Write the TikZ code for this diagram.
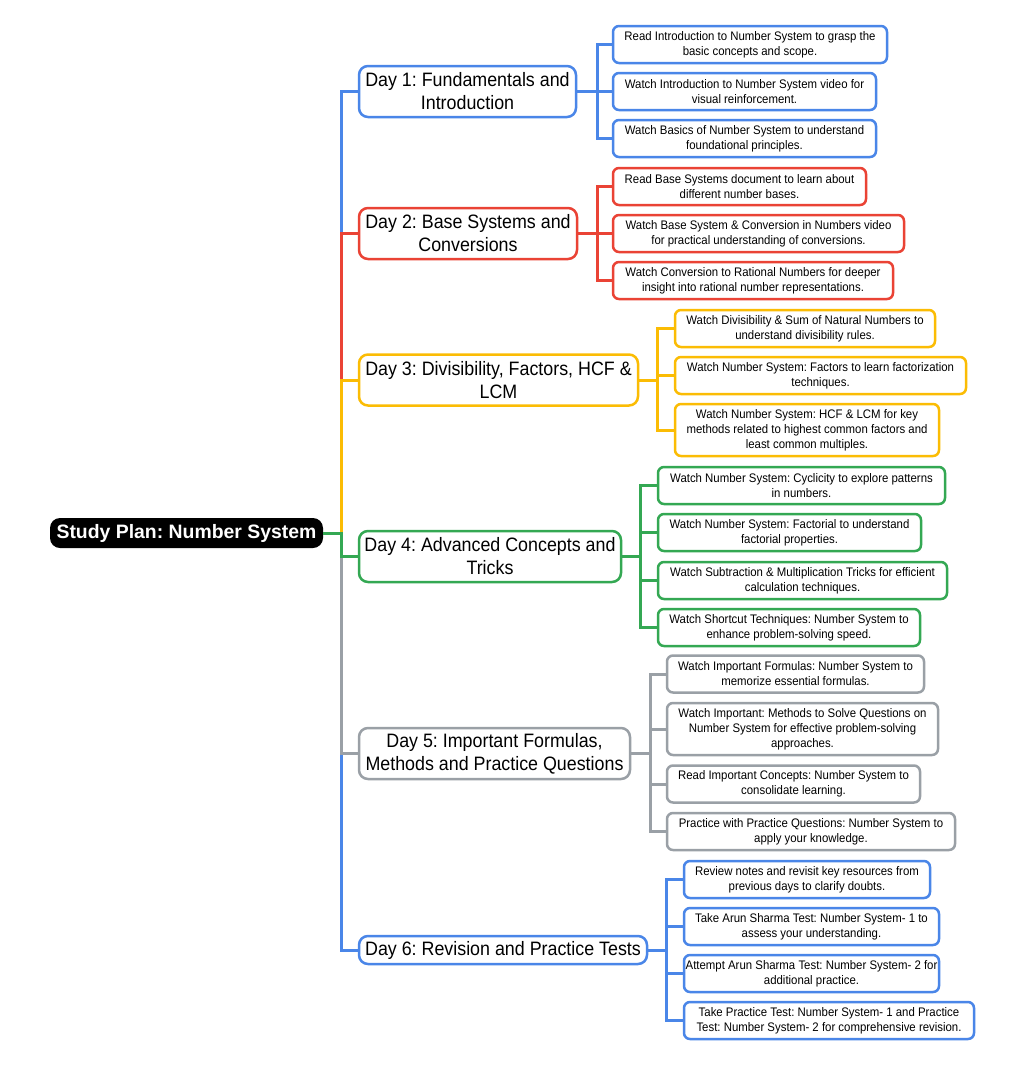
\documentclass[tikz,border=0pt]{standalone}
\usepackage{fontspec}
\setmainfont{Liberation Sans}
\newfontfamily\narrowfont[FakeStretch=0.92]{Liberation Sans}
\frenchspacing
\definecolor{cblue}{HTML}{4A86E8}
\definecolor{cred}{HTML}{EA4335}
\definecolor{cyellow}{HTML}{FBBC04}
\definecolor{cgreen}{HTML}{34A853}
\definecolor{cgrey}{HTML}{9AA0A6}
\tikzset{
  rootbox/.style={fill=black, text=white, rounded corners=10pt, inner sep=0pt,
    minimum width=273pt, minimum height=30pt, font=\fontsize{19.4}{22}\selectfont\bfseries},
  daybox/.style={draw=#1, line width=2.5pt, fill=white, rounded corners=9pt, inner sep=0pt,
    align=center, font=\narrowfont\fontsize{19.4}{23}\selectfont},
  leafbox/.style={draw=#1, line width=2.5pt, fill=white, rounded corners=6pt, inner sep=0pt,
    align=center, minimum height=37pt, font=\narrowfont\fontsize{12.4}{15}\selectfont},
  conn/.style={draw=#1, line width=3pt},
}
\begin{document}
\begin{tikzpicture}[x=1pt,y=-1pt]
\useasboundingbox (0,0) rectangle (1024,1066);
\fill[white] (0,0) rectangle (1024,1066);

\coordinate (t) at (341,533);
\coordinate (b1) at (597,91.5);
\coordinate (b2) at (597,233.5);
\coordinate (b3) at (657,380);
\coordinate (b4) at (640,556.5);
\coordinate (b5) at (650,753.5);
\coordinate (b6) at (666,950);

\node[rootbox] (root) at (186.5,533) {Study Plan: Number System};

\node[daybox=cblue, minimum width=217pt, minimum height=51pt] (d1) at (467.5,91.5) {Day 1: Fundamentals and\\Introduction};
\node[daybox=cred, minimum width=218pt, minimum height=51pt] (d2) at (468,233.5) {Day 2: Base Systems and\\Conversions};
\node[daybox=cyellow, minimum width=279pt, minimum height=51pt] (d3) at (498.5,380) {Day 3: Divisibility, Factors, HCF \&\\LCM};
\node[daybox=cgreen, minimum width=262pt, minimum height=51pt] (d4) at (490,556.5) {Day 4: Advanced Concepts and\\Tricks};
\node[daybox=cgrey, minimum width=271pt, minimum height=51pt] (d5) at (494.5,753.5) {Day 5: Important Formulas,\\Methods and Practice Questions};
\node[daybox=cblue, minimum width=288pt, minimum height=28pt] (d6) at (503,950) {Day 6: Revision and Practice Tests};

\node[leafbox=cblue, minimum width=274pt] (l11) at (750,44.5) {Read Introduction to Number System to grasp the\\basic concepts and scope.};
\node[leafbox=cblue, minimum width=263pt] (l12) at (744.5,91.5) {Watch Introduction to Number System video for\\visual reinforcement.};
\node[leafbox=cblue, minimum width=263pt] (l13) at (744.5,138.5) {Watch Basics of Number System to understand\\foundational principles.};

\node[leafbox=cred, minimum width=253pt] (l21) at (739.5,186.5) {Read Base Systems document to learn about\\different number bases.};
\node[leafbox=cred, minimum width=291pt] (l22) at (758.5,233.5) {Watch Base System \& Conversion in Numbers video\\for practical understanding of conversions.};
\node[leafbox=cred, minimum width=280pt] (l23) at (753,280.5) {Watch Conversion to Rational Numbers for deeper\\insight into rational number representations.};

\node[leafbox=cyellow, minimum width=260pt] (l31) at (805,328.5) {Watch Divisibility \& Sum of Natural Numbers to\\understand divisibility rules.};
\node[leafbox=cyellow, minimum width=291pt] (l32) at (820.5,375.5) {Watch Number System: Factors to learn factorization\\techniques.};
\node[leafbox=cyellow, minimum width=264pt, minimum height=52pt] (l33) at (807,430) {Watch Number System: HCF \& LCM for key\\methods related to highest common factors and\\least common multiples.};

\node[leafbox=cgreen, minimum width=287pt] (l41) at (801.5,485.5) {Watch Number System: Cyclicity to explore patterns\\in numbers.};
\node[leafbox=cgreen, minimum width=263pt] (l42) at (789.5,532.5) {Watch Number System: Factorial to understand\\factorial properties.};
\node[leafbox=cgreen, minimum width=289pt] (l43) at (802.5,580.5) {Watch Subtraction \& Multiplication Tricks for efficient\\calculation techniques.};
\node[leafbox=cgreen, minimum width=262pt] (l44) at (789,627.5) {Watch Shortcut Techniques: Number System to\\enhance problem-solving speed.};

\node[leafbox=cgrey, minimum width=257pt] (l51) at (795.5,674) {Watch Important Formulas: Number System to\\memorize essential formulas.};
\node[leafbox=cgrey, minimum width=271pt, minimum height=52pt] (l52) at (802.5,729) {Watch Important: Methods to Solve Questions on\\Number System for effective problem-solving\\approaches.};
\node[leafbox=cgrey, minimum width=253pt] (l53) at (793.5,784) {Read Important Concepts: Number System to\\consolidate learning.};
\node[leafbox=cgrey, minimum width=288pt] (l54) at (811,831.5) {Practice with Practice Questions: Number System to\\apply your knowledge.};

\node[leafbox=cblue, minimum width=246pt] (l61) at (807,879.5) {Review notes and revisit key resources from\\previous days to clarify doubts.};
\node[leafbox=cblue, minimum width=255pt] (l62) at (811.5,926.5) {Take Arun Sharma Test: Number System- 1 to\\assess your understanding.};
\node[leafbox=cblue, minimum width=255pt] (l63) at (811.5,973.5) {Attempt Arun Sharma Test: Number System- 2 for\\additional practice.};
\node[leafbox=cblue, minimum width=290pt] (l64) at (829,1020.5) {Take Practice Test: Number System- 1 and Practice\\Test: Number System- 2 for comprehensive revision.};

\begin{pgfinterruptboundingbox}
\path[conn=cblue] (root.east) -- (t) |- (d1.west);
\path[conn=cred] (root.east) -- (t) |- (d2.west);
\path[conn=cyellow] (root.east) -- (t) |- (d3.west);
\path[conn=cblue] (root.east) -- (t) |- (d6.west);
\path[conn=cgrey] (root.east) -- (t) |- (d5.west);
\path[conn=cgreen] (root.east) -- (t) |- (d4.west);

\foreach \l in {l11,l12,l13} \path[conn=cblue] (d1.east) -- (b1) |- (\l.west);
\foreach \l in {l21,l22,l23} \path[conn=cred] (d2.east) -- (b2) |- (\l.west);
\foreach \l in {l31,l32,l33} \path[conn=cyellow] (d3.east) -- (b3) |- (\l.west);
\foreach \l in {l41,l42,l43,l44} \path[conn=cgreen] (d4.east) -- (b4) |- (\l.west);
\foreach \l in {l51,l52,l53,l54} \path[conn=cgrey] (d5.east) -- (b5) |- (\l.west);
\foreach \l in {l61,l62,l63,l64} \path[conn=cblue] (d6.east) -- (b6) |- (\l.west);
\end{pgfinterruptboundingbox}
\end{tikzpicture}
\end{document}
